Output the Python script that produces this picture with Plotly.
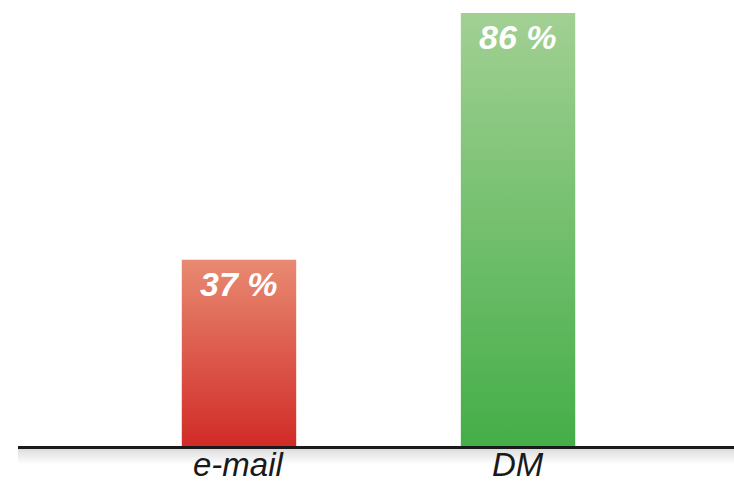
import plotly.graph_objects as go

categories = ["e-mail", "DM"]
values = [37, 86]
top_colors = ["#E88A72", "#A2D093"]
bottom_colors = ["#D12B27", "#44AE48"]

BAR_HALF = 0.205
W, H = 734, 484
ML, MR, MT, MB = 18, 0, 13, 38

fig = go.Figure()
for i, (cat, v) in enumerate(zip(categories, values)):
    fig.add_trace(go.Scatter(
        x=[i - BAR_HALF, i + BAR_HALF], y=[v, v],
        mode="lines", line=dict(width=0), fill="tozeroy",
        fillgradient=dict(type="vertical", start=0, stop=v,
                          colorscale=[[0, bottom_colors[i]], [1, top_colors[i]]]),
        hoverinfo="skip", showlegend=False, name=cat,
    ))

annotations = []
for i, v in enumerate(values):
    annotations.append(dict(
        x=i, y=v, xref="x", yref="y", text=f"{v} %", showarrow=False,
        yanchor="top", xanchor="center", yshift=-3,
        font=dict(family="Liberation Sans, Arial, sans-serif", size=34,
                  color="white", weight="bold", style="italic"),
    ))
# category labels under the baseline
for i, cat in enumerate(categories):
    annotations.append(dict(
        x=i, y=0, xref="x", yref="paper", text=cat, showarrow=False,
        yanchor="middle", xanchor="center", yshift=-18,
        font=dict(family="Liberation Sans, Arial, sans-serif", size=33,
                  color="#1a1a1a", style="italic"),
    ))

plot_h = H - MT - MB
shapes = []
# soft shadow below the baseline
for k in range(16):
    y0 = -(2 + k) / plot_h
    y1 = -(3 + k) / plot_h
    op = 0.2 * (1 - k / 16)
    shapes.append(dict(type="rect", xref="paper", yref="paper",
                       x0=0, x1=1, y0=y1, y1=y0, line=dict(width=0),
                       fillcolor=f"rgba(80,80,80,{op:.3f})", layer="below"))

fig.update_layout(
    width=W, height=H,
    margin=dict(l=ML, r=MR, t=MT, b=MB),
    paper_bgcolor="white", plot_bgcolor="white",
    shapes=shapes,
    annotations=annotations,
    xaxis=dict(range=[-0.792, 1.774], tickmode="array",
               tickvals=list(range(len(categories))), showticklabels=False,
               showgrid=False, zeroline=False, showline=True,
               linecolor="#1a1a1a", linewidth=3, ticks="",
               automargin=False, fixedrange=True),
    yaxis=dict(range=[0, 86], visible=False, fixedrange=True, automargin=False),
)

fig.write_html(
    "out.html",
    config={"displayModeBar": False},
    post_script="document.body.style.margin='0';document.body.style.overflow='hidden';",
)
